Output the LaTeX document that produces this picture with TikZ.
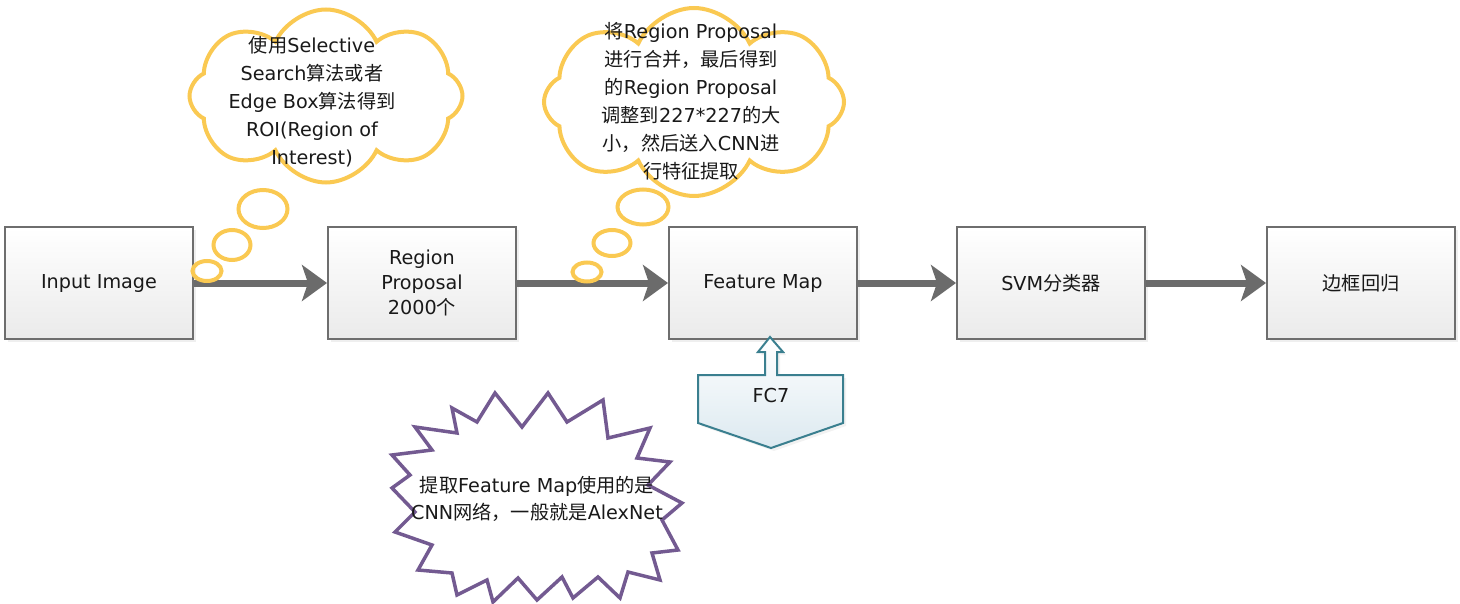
\documentclass[tikz,border=0pt]{standalone}
\usepackage{fontspec}
\setmainfont{DejaVu Sans}
\newfontfamily\cjk{Noto Sans CJK SC}
\newcommand{\zh}[1]{{\cjk #1}}
\usetikzlibrary{arrows.meta,shapes.symbols,shadows}

\definecolor{boxline}{RGB}{110,110,110}
\definecolor{flowgray}{RGB}{107,107,107}
\definecolor{cloudyellow}{RGB}{250,201,82}
\definecolor{burstpurple}{RGB}{115,90,145}
\definecolor{calloutline}{RGB}{58,127,143}
\definecolor{calloutfill}{RGB}{220,233,240}

\begin{document}
\begin{tikzpicture}[x=0.5pt,y=-0.5pt,font=\fontsize{9.6pt}{14pt}\selectfont,text=black!90]
            \tikzstyle{stage}=[draw=boxline,line width=1pt,top color=white,bottom color=black!8,minimum width=94pt,minimum height=55.5pt,align=center,drop shadow={shadow xshift=1.5pt,shadow yshift=-1.5pt,fill=black!12}]
            \tikzstyle{flow}=[draw=flowgray,line width=3.5pt,-{Stealth[length=12.5pt,width=18pt,inset=3pt]}]
            \tikzstyle{think}=[cloud,cloud puffs=8,cloud puff arc=130,cloud ignores aspect,draw=cloudyellow,line width=2pt,fill=white]
            \tikzstyle{bubble}=[draw=cloudyellow,line width=2pt]
            \tikzstyle{burst}=[draw=burstpurple,line width=1.75pt,fill=white,line join=miter]
            \tikzstyle{callout}=[draw=calloutline,line width=1pt,top color=white,bottom color=calloutfill,drop shadow={shadow xshift=1.5pt,shadow yshift=-1.5pt,fill=black!10}]

            \useasboundingbox (0,0) rectangle (1460,604);

            % pipeline
            \node[stage] (input) at (99,283) {Input Image};
            \node[stage,font=\fontsize{9.6pt}{12.3pt}\selectfont] (proposal) at (422,283) {Region\\Proposal\\2000\zh{个}};
            \node[stage] (featmap) at (763,283) {Feature Map};
            \node[stage] (svm) at (1051,283) {SVM\zh{分类器}};
            \node[stage] (bbox) at (1361,283) {\zh{边框回归}};

            \draw[flow] (input) -- (proposal);
            \draw[flow] (proposal) -- (featmap);
            \draw[flow] (featmap) -- (svm);
            \draw[flow] (svm) -- (bbox);

            % thought clouds
            \node[think,minimum width=136.5pt,minimum height=86.5pt] (roi-cloud) at (326,96) {};
            \node[align=center] (roi-text) at (312,102) {\zh{使用}Selective\\Search\zh{算法或者}\\Edge Box\zh{算法得到}\\ROI(Region of\\Interest)};
            \draw[bubble] (263,209) ellipse [x radius=12.25pt,y radius=9.5pt];
            \draw[bubble] (232,245) ellipse [x radius=9.25pt,y radius=7.5pt];
            \draw[bubble] (207,271) ellipse [x radius=7.25pt,y radius=5pt];

            \node[think,minimum width=150pt,minimum height=94pt] (cnn-cloud) at (694,102) {};
            \node[align=center] (cnn-text) at (691,101) {\zh{将}Region Proposal\\\zh{进行合并，最后得到}\\\zh{的}Region Proposal\\\zh{调整到}227*227\zh{的大}\\\zh{小，然后送入}CNN\zh{进}\\\zh{行特征提取}};
            \draw[bubble] (643,207) ellipse [x radius=12.75pt,y radius=8.75pt];
            \draw[bubble] (612,243) ellipse [x radius=9.25pt,y radius=6.5pt];
            \draw[bubble] (587,272) ellipse [x radius=7.25pt,y radius=4.75pt];

            % FC7 callout
            \path[callout] (770,337) -- (783,352) -- (777,352) -- (777,375) -- (843,375) -- (843,423)
              -- (771,448) -- (698,423) -- (698,375) -- (765,375) -- (765,352) -- (758,352) -- cycle;
            \node (fc7) at (771,396) {FC7};

            % starburst
            \draw[burst] (495,393) -- (522,427) -- (548,393) -- (567,422) -- (603,400) -- (608,438)
              -- (650,428) -- (637,458) -- (670,462) -- (648,485) -- (682,503) -- (662,520)
              -- (678,550) -- (652,553) -- (660,580) -- (628,572) -- (620,598) -- (598,577)
              -- (573,598) -- (562,577) -- (537,600) -- (518,578) -- (493,602) -- (487,580)
              -- (457,595) -- (452,573) -- (418,570) -- (432,545) -- (395,532) -- (415,512)
              -- (392,488) -- (410,475) -- (392,455) -- (432,450) -- (415,427) -- (457,433)
              -- (452,408) -- (477,422) -- cycle;
            \node[align=center,font=\fontsize{9.6pt}{13.5pt}\selectfont] (burst-text) at (537,499) {\zh{提取}Feature Map\zh{使用的是}\\CNN\zh{网络，一般就是}AlexNet};
\end{tikzpicture}
\end{document}
